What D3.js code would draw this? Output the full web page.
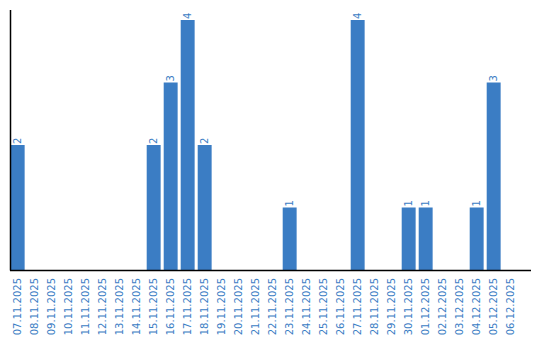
<html>
<head>
<style>
  body { margin: 0; background: #fff; }
  text { font-family: "DejaVu Sans", Verdana, sans-serif; }
</style>
</head>
<body>
<script src="https://cdn.jsdelivr.net/npm/d3@7/dist/d3.min.js"></script>
<div id="chart"></div>
<script>
  var dates = ["07.11.2025", "08.11.2025", "09.11.2025", "10.11.2025", "11.11.2025", "12.11.2025",
    "13.11.2025", "14.11.2025", "15.11.2025", "16.11.2025", "17.11.2025", "18.11.2025",
    "19.11.2025", "20.11.2025", "21.11.2025", "22.11.2025", "23.11.2025", "24.11.2025",
    "25.11.2025", "26.11.2025", "27.11.2025", "28.11.2025", "29.11.2025", "30.11.2025",
    "01.12.2025", "02.12.2025", "03.12.2025", "04.12.2025", "05.12.2025", "06.12.2025"];
  var counts = [2, 0, 0, 0, 0, 0, 0, 0, 2, 3, 4, 2, 0, 0, 0, 0, 1, 0, 0, 0, 4, 0, 0, 1, 1, 0, 0, 1, 3, 0];

  var data = dates.map(function (d, i) { return { date: d, value: counts[i] }; });
  var blue = "#3b7dc4";

  var svg = d3.select("#chart")
    .append("svg")
    .attr("width", 540)
    .attr("height", 340);

  // step of 17px per day
  var x = d3.scaleBand()
    .domain(dates)
    .range([10.7, 10.7 + 17 * (dates.length - 0.18)])
    .paddingInner(0.18)
    .paddingOuter(0);

  var y = d3.scaleLinear()
    .domain([0, 4])
    .range([270, 20]);

  // bars
  svg.selectAll("rect.bar")
    .data(data.filter(function (d) { return d.value > 0; }))
    .enter()
    .append("rect")
    .attr("class", "bar")
    .attr("x", function (d) { return x(d.date); })
    .attr("y", function (d) { return y(d.value); })
    .attr("width", x.bandwidth())
    .attr("height", function (d) { return y(0) - y(d.value); })
    .attr("fill", blue);

  // value labels
  svg.selectAll("text.val")
    .data(data.filter(function (d) { return d.value > 0; }))
    .enter()
    .append("text")
    .attr("class", "val")
    .attr("transform", function (d) {
      return "translate(" + (x(d.date) + x.bandwidth() / 2) + "," + (y(d.value) - 1) + ") rotate(-90)";
    })
    .attr("dy", "0.35em")
    .attr("text-anchor", "start")
    .attr("font-size", 10)
    .attr("fill", blue)
    .text(function (d) { return d.value; });

  // x labels
  svg.selectAll("text.lbl")
    .data(dates)
    .enter()
    .append("text")
    .attr("class", "lbl")
    .attr("transform", function (d) {
      return "translate(" + (x(d) + x.bandwidth() / 2) + ",278) rotate(-90)";
    })
    .attr("dy", "0.35em")
    .attr("text-anchor", "end")
    .attr("font-size", 10)
    .attr("fill", blue)
    .text(function (d) { return d; });

  // axes lines
  svg.append("line")
    .attr("x1", 10.5).attr("x2", 10.5)
    .attr("y1", 10).attr("y2", 270.5)
    .attr("stroke", "#000")
    .attr("stroke-width", 1.5);
  svg.append("line")
    .attr("x1", 10).attr("x2", 531)
    .attr("y1", 270.5).attr("y2", 270.5)
    .attr("stroke", "#000")
    .attr("stroke-width", 1.5);
</script>
</body>
</html>
